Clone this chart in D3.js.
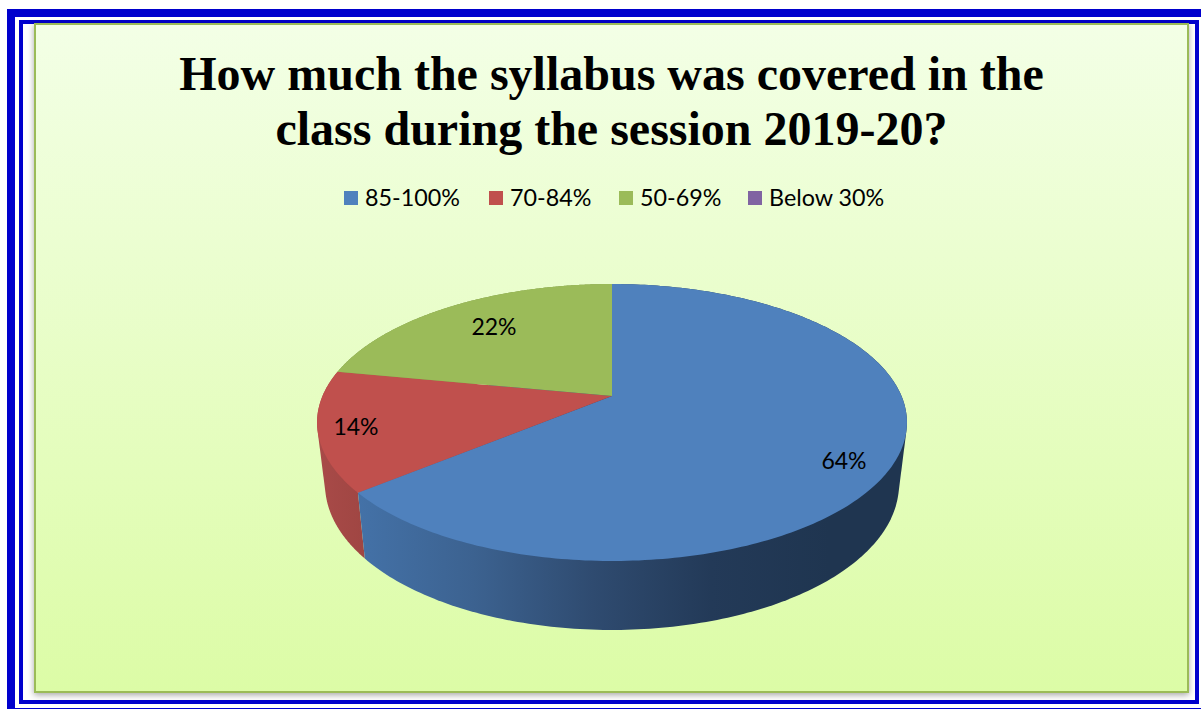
<!DOCTYPE html>
<html><head><meta charset="utf-8">
<script src="https://cdnjs.cloudflare.com/ajax/libs/d3/7.8.5/d3.min.js"></script>
<style>html,body{margin:0;padding:0;background:#fff;overflow:hidden}svg{display:block}</style></head>
<body><svg id="c" width="1201" height="709"></svg>
<script>
const titleLines=["How much the syllabus was covered in the","class during the session 2019-20?"];
const categories=["85-100%","70-84%","50-69%","Below 30%"];
const values=[64,14,22,0];
const labels=["64%","14%","22%",""];
const colors=["#4f81bd","#c0504d","#9bbb59","#8064a2"];
const legendX=[344,489,619,748];
const labelPos=[[844,461],[356,427],[494,327]];
const wallStops=[["#4472a8","#3c6290","#2f4b70","#233a58","#1f3550"],["#a84a48","#a04643"],["#7f9a49","#7f9a49"]];

const svg=d3.select("#c");
const defs=svg.append("defs");
const g=defs.append("linearGradient").attr("id","bg").attr("x1",0).attr("y1",0).attr("x2",0).attr("y2",1);
g.append("stop").attr("offset",0).attr("stop-color","#f3ffe6");
g.append("stop").attr("offset",1).attr("stop-color","#dcfca6");
const f=defs.append("filter").attr("id","sh").attr("x","-5%").attr("y","-5%").attr("width","110%").attr("height","110%");
f.append("feDropShadow").attr("dx",0).attr("dy",2).attr("stdDeviation",3).attr("flood-color","#000").attr("flood-opacity",0.35);

svg.append("rect").attr("x",11).attr("y",13).attr("width",1210).attr("height",699).attr("fill","none").attr("stroke","#0000cd").attr("stroke-width",8);
svg.append("rect").attr("x",21).attr("y",22).attr("width",1176).attr("height",680).attr("fill","none").attr("stroke","#0000cd").attr("stroke-width",4);
svg.append("rect").attr("x",35).attr("y",24).attr("width",1153).attr("height",668).attr("fill","url(#bg)").attr("stroke","#9bbb59").attr("stroke-width",2).attr("filter","url(#sh)");

svg.selectAll(".t").data(titleLines).enter().append("text").attr("x",611.5).attr("y",(d,i)=>90+i*55)
 .attr("text-anchor","middle").attr("font-family","Liberation Serif").attr("font-weight","bold").attr("font-size",48).attr("fill","#000").text(d=>d);

const lg=svg.selectAll(".l").data(categories).enter().append("g");
lg.append("rect").attr("x",(d,i)=>legendX[i]).attr("y",191).attr("width",14).attr("height",14).attr("fill",(d,i)=>colors[i]);
lg.append("text").attr("x",(d,i)=>legendX[i]+21).attr("y",206).attr("font-family","Lato").attr("font-size",23.3).attr("fill","#000").text(d=>d);

const cx=612,cy=396,A=133.4,B=289.5,K=0.1913;
const proj=(t)=>{const u=Math.sin(t),v=-Math.cos(t),w=1-K*v;return [cx+B*u/w,cy+A*v/w];};
const lower=(t)=>{const v=-Math.cos(t),p=proj(t),d=60+9*v,s=0.973;return [cx+(p[0]-cx)*s,p[1]+d];};
const arcs=d3.pie().sort(null).value(d=>d)(values);
const line=d3.line().curve(d3.curveLinearClosed);
const wallX=d3.scaleLinear().domain([0,1]).range([355,830]);
arcs.forEach((a,i)=>{ if(a.value===0)return;
 const wg=defs.append("linearGradient").attr("id","w"+i).attr("gradientUnits","userSpaceOnUse")
  .attr("x1",i===1?320:wallX(0)).attr("x2",i===1?362:wallX(1)).attr("y1",0).attr("y2",0);
 wallStops[i].forEach((c,k,arr)=>wg.append("stop").attr("offset",k/(arr.length-1)).attr("stop-color",c));
});
const wall=svg.append("g");
[2,1,0].forEach(i=>{const a=arcs[i]; if(a.value===0)return;
 const ts=d3.range(0,1.0001,1/240).map(s=>a.startAngle+(a.endAngle-a.startAngle)*s);
 const hull=d3.polygonHull(ts.map(proj).concat(ts.map(lower)));
 wall.append("path").attr("d",line(hull)).attr("fill","url(#w"+i+")");
});
const face=svg.append("g");
arcs.forEach((a,i)=>{ if(a.value===0)return;
 const pts=[[cx,cy]].concat(d3.range(0,1.0001,1/240).map(s=>proj(a.startAngle+(a.endAngle-a.startAngle)*s)));
 face.append("path").attr("d",line(pts)).attr("fill",colors[i]);
});
svg.selectAll(".v").data(labels.filter(d=>d)).enter().append("text").attr("x",(d,i)=>labelPos[i][0]).attr("y",(d,i)=>labelPos[i][1]+8)
 .attr("text-anchor","middle").attr("font-family","Lato").attr("font-size",23).attr("fill","#000").text(d=>d);
</script></body></html>
